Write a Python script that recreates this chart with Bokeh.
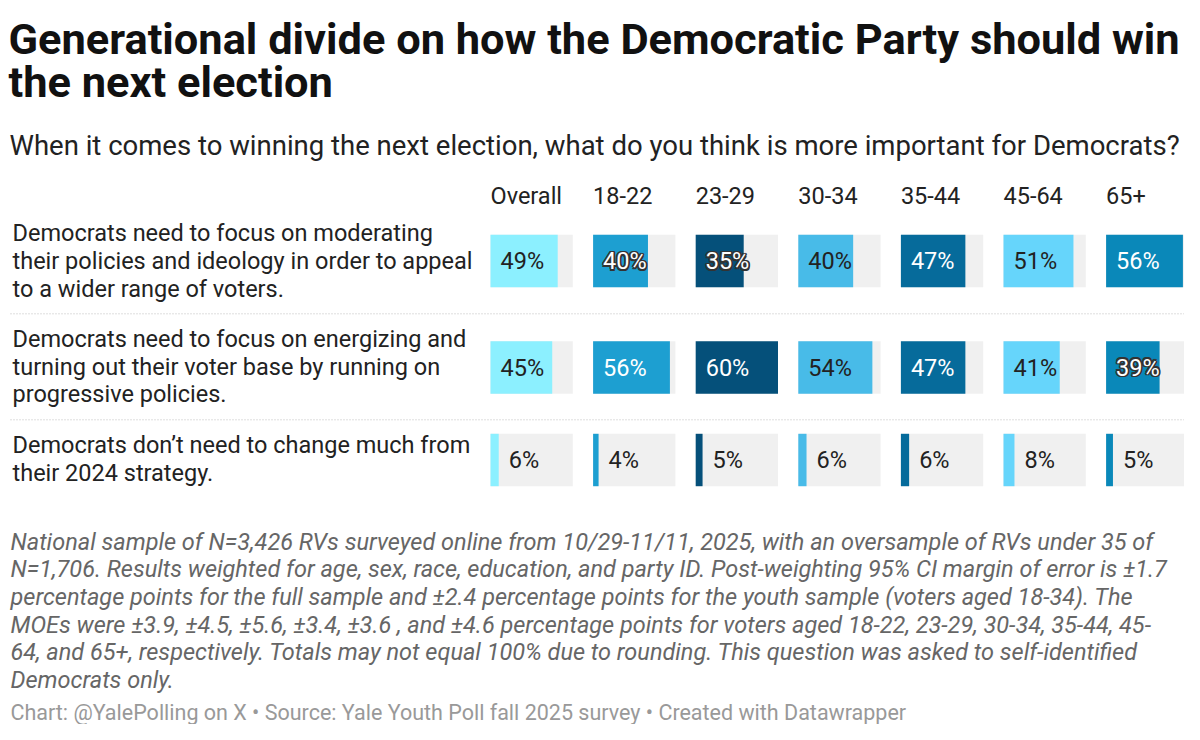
from bokeh.plotting import figure
from bokeh.models import Range1d
from bokeh.core.properties import value
from bokeh.embed import file_html
from bokeh.resources import INLINE

# ---------------- data ----------------
TITLE_LINES = ["Generational divide on how the Democratic Party should win",
               "the next election"]
SUBTITLE = ("When it comes to winning the next election, what do you think is "
            "more important for Democrats?")
GROUPS = ["Overall", "18-22", "23-29", "30-34", "35-44", "45-64", "65+"]
ANSWER_LINES = [
    ["Democrats need to focus on moderating",
     "their policies and ideology in order to appeal",
     "to a wider range of voters."],
    ["Democrats need to focus on energizing and",
     "turning out their voter base by running on",
     "progressive policies."],
    ["Democrats don\u2019t need to change much from",
     "their 2024 strategy."],
]
MODERATE = [49, 40, 35, 40, 47, 51, 56]
ENERGIZE = [45, 56, 60, 54, 47, 41, 39]
NO_CHANGE = [6, 4, 5, 6, 6, 8, 5]
NOTES = [
    "National sample of N=3,426 RVs surveyed online from 10/29-11/11, 2025, with an oversample of RVs under 35 of",
    "N=1,706. Results weighted for age, sex, race, education, and party ID. Post-weighting 95% CI margin of error is \u00b11.7",
    "percentage points for the full sample and \u00b12.4 percentage points for the youth sample (voters aged 18-34). The",
    "MOEs were \u00b13.9, \u00b14.5, \u00b15.6, \u00b13.4, \u00b13.6 , and \u00b14.6 percentage points for voters aged 18-22, 23-29, 30-34, 35-44, 45-",
    "64, and 65+, respectively. Totals may not equal 100% due to rounding. This question was asked to self-identified",
    "Democrats only.",
]
FOOTER = ("Chart: @YalePolling on X \u2022 Source: Yale Youth Poll fall 2025 survey "
          "\u2022 Created with Datawrapper")

# ---------------- styles / layout ----------------
COLORS = ["#8cf0ff", "#1d9fd1", "#05507a", "#48bbe8", "#066b9b", "#66d5fb", "#0a88b9"]
LIGHT = [True, False, False, True, False, True, False]
FONT = value("Roboto")
W, H = 1184, 724
X0, X1 = 0.0, 1184.0      # reference-pixel span shown by the frame
Y0, Y1 = 0.0, 724.0
TEXT_DY = -8.0            # baseline calibration for text glyphs
COL_LEFT0, COL_PITCH, COL_W = 490.0, 102.6, 82.3
ROW_CENTER = [260.5, 367.0, 459.5]
BAR_H = 52.4
LABEL_W = 44.0
BODY = 23.5

p = figure(width=W, height=H, x_range=Range1d(X0, X1), y_range=Range1d(Y1, Y0),
           output_backend="svg", toolbar_location=None, min_border=0,
           x_axis_location=None, y_axis_location=None)
p.grid.visible = False
p.outline_line_color = None
p.background_fill_color = "white"
p.border_fill_color = "white"


def txt(x, y, s, size, color="#222222", style="normal"):
    p.text(x=[x], y=[y + TEXT_DY], text=[s], text_font=FONT, text_font_size=f"{size}px",
           text_color=color, text_font_style=style, text_align="left",
           text_baseline="alphabetic")


# title / subtitle
for line, base in zip(TITLE_LINES, [47, 90]):
    txt(8, base, line, 43.4, "#111111", "bold")
txt(9, 152.7, SUBTITLE, 27.5, "#222222")

# row labels
ROW_BASES = [[240.7, 268.7, 296.7], [346.5, 374.2, 401.9], [452.5, 480.2]]
for lines, bases in zip(ANSWER_LINES, ROW_BASES):
    for line, b in zip(lines, bases):
        txt(12, b, line, BODY, "#222222")

# separators
p.segment(x0=[10, 10], x1=[1188, 1188], y0=[313.3, 419.3], y1=[313.3, 419.3],
          line_color="#bdbdbd", line_width=1, line_dash="1 2")

SCALE_MAX = max(MODERATE + ENERGIZE + NO_CHANGE)
k = SCALE_MAX / COL_W
for j, grp in enumerate(GROUPS):
    L = COL_LEFT0 + j * COL_PITCH
    name = f"c{j}"
    p.extra_x_ranges[name] = Range1d((X0 - L) * k, (X1 - L) * k)
    txt(L, 203.3, grp, BODY, "#222222")
    vals = [MODERATE[j], ENERGIZE[j], NO_CHANGE[j]]
    p.hbar(y=ROW_CENTER, left=0, right=SCALE_MAX, height=BAR_H,
           fill_color="#f0f0f0", line_color=None, x_range_name=name)
    p.hbar(y=ROW_CENTER, left=0, right=vals, height=BAR_H,
           fill_color=COLORS[j], line_color=None, x_range_name=name)
    for v, yc in zip(vals, ROW_CENTER):
        inside = v >= 20
        xpos = 0 if inside else v
        white = inside and not LIGHT[j]
        col = "#ffffff" if white else "#222222"
        base = yc + 8.2 + TEXT_DY
        lab = f"{v}%"
        halo = white and (10 + LABEL_W + 2) > v / k
        if halo:
            for dx, dy in [(-1.7, 0), (1.7, 0), (0, -1.7), (0, 1.7),
                           (-1.3, -1.3), (1.3, 1.3), (-1.3, 1.3), (1.3, -1.3)]:
                p.text(x=[xpos], y=[base], text=[lab], x_offset=10 + dx, y_offset=dy,
                       text_font=FONT, text_font_size=f"{BODY}px", text_color="#333333",
                       text_baseline="alphabetic", x_range_name=name)
        p.text(x=[xpos], y=[base], text=[lab], x_offset=10,
               text_font=FONT, text_font_size=f"{BODY}px", text_color=col,
               text_baseline="alphabetic", x_range_name=name)

# notes
NOTE_BASES = [549.3, 576.9, 604.5, 632.1, 659.7, 687.3]
for line, b in zip(NOTES, NOTE_BASES):
    txt(10, b, line, 23.5, "#666666", "italic")
txt(10, 719.5, FOOTER, 21.5, "#999999")

open("out.html", "w").write(file_html(p, INLINE))
